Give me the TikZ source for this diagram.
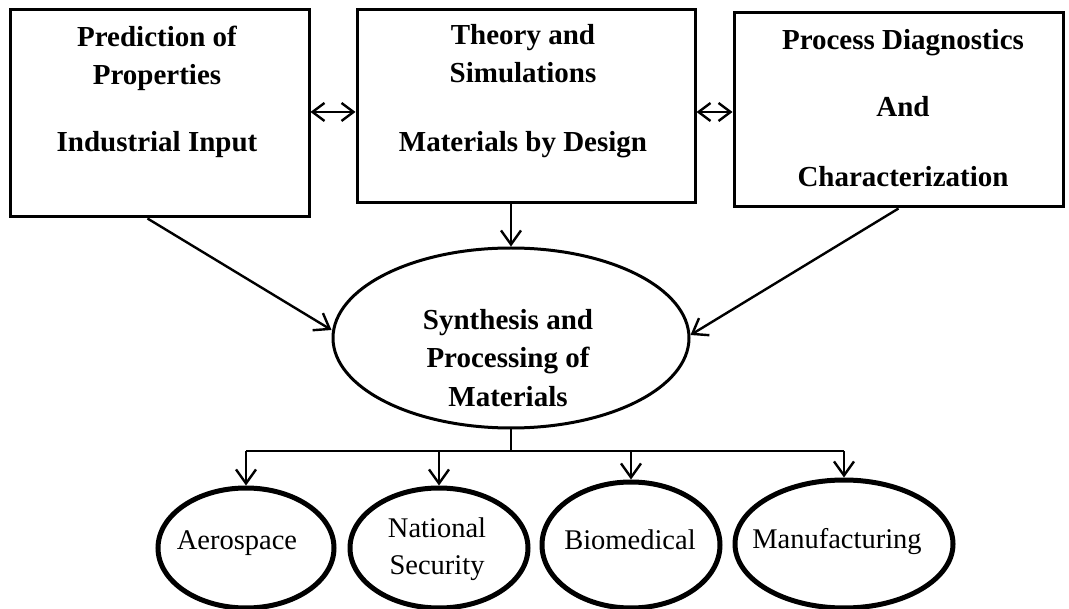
\documentclass[tikz,border=0pt]{standalone}
\usepackage{fontspec}
\setmainfont{Liberation Serif}
\usetikzlibrary{shapes.geometric,arrows.meta}
\begin{document}
\begin{tikzpicture}[x=1pt,y=-1pt,
  panel/.style={draw, rectangle, line width=3pt, inner sep=0pt},
  hubshape/.style={draw, ellipse, line width=3pt, inner sep=0pt},
  appshape/.style={draw, ellipse, line width=5pt, inner sep=0pt},
  headtext/.style={font=\fontsize{29}{34}\selectfont\bfseries, anchor=base, inner sep=0pt},
  apptext/.style={font=\fontsize{28.5}{34}\selectfont, anchor=base, inner sep=0pt},
  arr/.style={line width=2.4pt, -{Straight Barb[length=14pt,width=20pt,line width=2.4pt]}},
  dbl/.style={line width=2.4pt, {Straight Barb[length=12pt,width=18pt,line width=2.4pt]}-{Straight Barb[length=12pt,width=18pt,line width=2.4pt]}},
  wire/.style={line width=2.4pt}]
\useasboundingbox (0,0) rectangle (1069,609);

% top panels
\node[panel, minimum width=299pt, minimum height=207pt] (b1) at (159.5,113.5) {};
\node[panel, minimum width=338pt, minimum height=193pt] (b2) at (526,106.5) {};
\node[panel, minimum width=329pt, minimum height=194pt] (b3) at (898.5,110) {};

\node[headtext] (t1a) at (157,47) {Prediction of};
\node[headtext] (t1b) at (157,85) {Properties};
\node[headtext] (t1c) at (157,152) {Industrial Input};

\node[headtext] (t2a) at (523,45) {Theory and};
\node[headtext] (t2b) at (523,83) {Simulations};
\node[headtext] (t2c) at (523,152) {Materials by Design};

\node[headtext] (t3a) at (903,50) {Process Diagnostics};
\node[headtext] (t3b) at (903,117) {And};
\node[headtext] (t3c) at (903,187) {Characterization};

% central ellipse
\node[hubshape, minimum width=356pt, minimum height=180pt] (synth) at (511,338) {};
\node[headtext] (s1) at (508,330) {Synthesis and};
\node[headtext] (s2) at (508,368) {Processing of};
\node[headtext] (s3) at (508,407) {Materials};

% application ellipses
\node[appshape, minimum width=176pt, minimum height=120pt] (aero) at (246,548) {};
\node[appshape, minimum width=178pt, minimum height=120pt] (natsec) at (439,548) {};
\node[appshape, minimum width=178pt, minimum height=126pt] (bio) at (631,545) {};
\node[appshape, minimum width=218pt, minimum height=128pt] (manu) at (844,544) {};

\node[apptext] (a1) at (237,550) {Aerospace};
\node[apptext] (a2) at (437,537) {National};
\node[apptext] (a3) at (437,574) {Security};
\node[apptext] (a4) at (630,550) {Biomedical};
\node[apptext] (a5) at (837,548) {Manufacturing};

% links between panels
\draw[dbl] (b1.east |- 0,112) -- (b2.west |- 0,112);
\draw[dbl] (b2.east |- 0,112) -- (b3.west |- 0,112);

% panels feeding the central ellipse
\draw[arr] ([xshift=-12pt]b1.south) -- ([yshift=8pt]synth.west);
\draw[arr] (synth.north |- b2.south) -- (synth.north);
\draw[arr] (b3.south) -- ([yshift=3pt]synth.east);

% distribution bus to applications
\coordinate (bus) at (0,451);
\draw[wire] (synth.south) -- (synth.south |- bus);
\draw[wire] (aero.north |- bus) -- (manu.north |- bus);
\draw[arr] (aero.north |- bus) -- (aero.north);
\draw[arr] (natsec.north |- bus) -- (natsec.north);
\draw[arr] (bio.north |- bus) -- (bio.north);
\draw[arr] (manu.north |- bus) -- (manu.north);
\end{tikzpicture}
\end{document}
